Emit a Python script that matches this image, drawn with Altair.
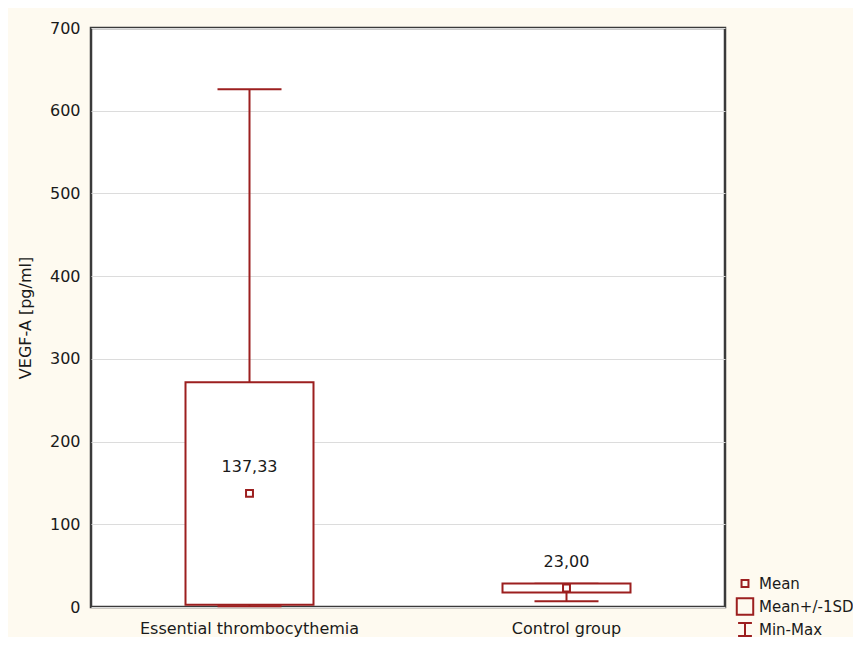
import altair as alt
import pandas as pd

groups = ["Essential thrombocythemia", "Control group"]
means = [137.33, 23.00]
sds = [134.5, 5.5]
mins = [1.0, 7.0]
maxs = [626.0, 28.0]
mean_labels = ["137,33", "23,00"]
legend_items = ["Mean", "Mean+/-1SD", "Min-Max"]

RED = "#9c1f1f"
FONT = "DejaVu Sans"

df = pd.DataFrame({
    "group": groups,
    "mean": means,
    "lo": [m - s for m, s in zip(means, sds)],
    "hi": [m + s for m, s in zip(means, sds)],
    "min": mins,
    "max": maxs,
    "label": mean_labels,
    "kind": ["Mean", "Mean"],
})

x = alt.X("group:N", sort=groups, title=None,
          axis=alt.Axis(labelAngle=0, ticks=False, labelPadding=13, domain=False,
                        labelFontSize=16, labelFont=FONT, labelColor="#1a1a1a",
                        labelLimit=400))
yscale = alt.Scale(domain=[0, 700], nice=False)

base = alt.Chart(df)

whisk = base.mark_rule(color=RED, strokeWidth=2).encode(
    x=x,
    y=alt.Y("min:Q", scale=yscale, title="VEGF-A [pg/ml]",
            axis=alt.Axis(values=[0, 100, 200, 300, 400, 500, 600, 700], ticks=False,
                          labelPadding=11, domain=False, gridColor="#dcdcdc",
                          labelFontSize=16, labelFont=FONT, labelColor="#1a1a1a",
                          titleFontSize=16, titleFont=FONT, titleFontWeight="normal",
                          titleColor="#1a1a1a", titlePadding=16)),
    y2="max:Q",
)
cap_max = base.mark_tick(color=RED, thickness=2, size=64, opacity=1).encode(
    x=x, y=alt.Y("max:Q", scale=yscale))
cap_min = base.mark_tick(color=RED, thickness=2, size=64, opacity=1).encode(
    x=x, y=alt.Y("min:Q", scale=yscale))
box = base.mark_bar(size=128, fill="white", stroke=RED, strokeWidth=2).encode(
    x=x, y=alt.Y("lo:Q", scale=yscale), y2="hi:Q")

small_sq = "M-0.4,-0.4H0.4V0.4H-0.4Z"
big_sq = "M-0.95,-0.95H0.95V0.95H-0.95Z"
ibeam = "M-0.8,-0.75H0.8M0,-0.75V0.75M-0.8,0.75H0.8"

pts = base.mark_point(filled=False, color=RED, strokeWidth=2, size=300, opacity=1).encode(
    x=x, y=alt.Y("mean:Q", scale=yscale),
    shape=alt.Shape("kind:N",
                    scale=alt.Scale(domain=legend_items, range=[small_sq, big_sq, ibeam]),
                    legend=alt.Legend(title=None, orient="none", legendX=644, legendY=545.5,
                                      symbolSize=300, symbolStrokeWidth=2,
                                      symbolStrokeColor=RED, symbolFillColor="transparent",
                                      symbolOpacity=1, rowPadding=3, clipHeight=20,
                                      labelOffset=4,
                                      labelFontSize=15, labelFont=FONT, labelColor="#1a1a1a",
                                      padding=0, values=legend_items)),
)
txt = base.mark_text(dy=-26, fontSize=16, font=FONT, color="#1a1a1a").encode(
    x=x, y=alt.Y("mean:Q", scale=yscale), text="label:N")

chart = alt.layer(whisk, cap_max, cap_min, box, pts, txt).properties(
    width=634, height=579,
    background="#fefaf0",
    padding={"left": 83, "top": 20, "right": 128, "bottom": 30},
    autosize=alt.AutoSizeParams(type="none"),
).configure_view(fill="white", stroke="#3a3a3a", strokeWidth=2.5)

chart.save("out.html", embed_options={"renderer": "svg", "actions": False})
